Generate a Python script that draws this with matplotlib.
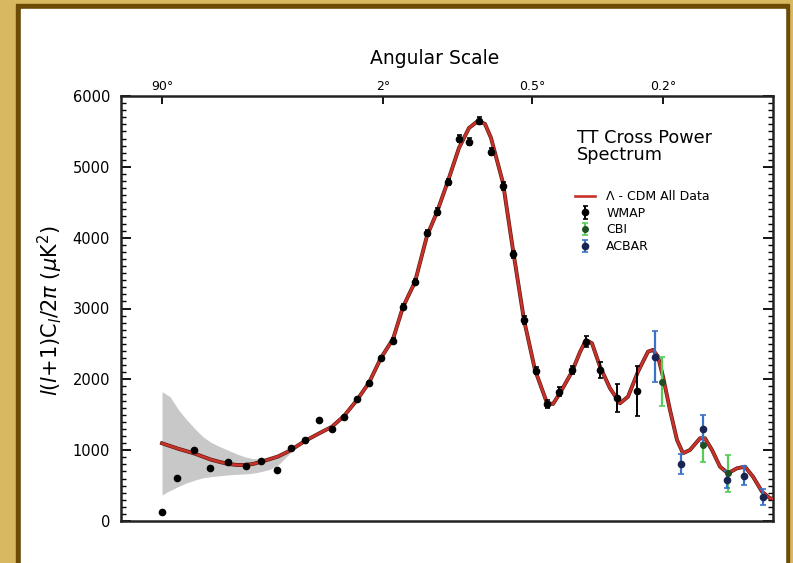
import numpy as np
import matplotlib.pyplot as plt
from matplotlib.patches import Rectangle
from matplotlib.ticker import MultipleLocator, NullLocator

plt.rcParams['font.family'] = ['DejaVu Sans']
plt.rcParams['mathtext.fontset'] = 'dejavusans'

# multipole l (top axis shows the matching angular scale)
wmap_l = [2, 3, 4.6, 6.5, 9.5, 13.2, 17.2, 22.4, 27.8, 33.9, 41.2, 48.7, 57.0, 66.5, 77.2,
          88.1, 100.2, 112.2, 126.7, 142.5, 158.1, 174.6, 193.9, 212.9, 232.7, 257.5, 284.2,
          310.2, 338.2, 370.9, 405.6, 444.1, 486.6, 539.4, 595.1, 669.7, 764.5]
wmap_val = [123, 603, 1003, 753, 829, 781, 851, 720, 1027, 1144, 1426, 1295, 1473, 1718, 1944,
            2306, 2542, 3026, 3379, 4062, 4367, 4783, 5394, 5356, 5648, 5214, 4730,
            3766, 2838, 2122, 1652, 1826, 2132, 2532, 2132, 1733, 1840]
wmap_err = [0, 0, 0, 0, 0, 0, 0, 0, 0, 0, 0, 0, 0, 0, 30,
            30, 35, 35, 40, 40, 45, 45, 50, 50, 50, 50, 50,
            50, 50, 50, 55, 60, 60, 80, 110, 200, 353]

cbi_l = [894, 1146, 1325]
cbi_val = [1967, 1073, 674]
cbi_err = [343, 236, 259]

acbar_l = [857, 1007, 1146, 1317, 1453, 1613]
acbar_val = [2320, 801, 1299, 579, 640, 343]
acbar_err = [357, 141, 200, 120, 130, 113]

model_l = [2.0, 2.5, 3.09, 3.78, 4.69, 5.62, 6.69, 8.07, 9.47, 11.24,
           13.03, 15.0, 17.5, 19.97, 22.7, 27.3, 33.9, 41.7, 48.9, 57.0,
           66.8, 76.9, 88.1, 100.6, 111.9, 126.7, 142.9, 157.7, 175.1, 193.9,
           212.4, 230.0, 244.5, 257.5, 284.9, 309.4, 338.2, 368.9, 404.7, 423.6,
           446.4, 487.7, 516.8, 539.4, 562.7, 595.1, 637.4, 681.9, 719.3, 768.0,
           819.2, 845.8, 873.0, 900.8, 940.8, 982.2, 1018.8, 1062.6, 1127.9, 1161.6,
           1210.0, 1267.2, 1326.4, 1395.4, 1459.0, 1524.8, 1601.4, 1672.0, 1726.3]
model_val = [1097, 1059, 1021, 988, 950, 908, 866, 833, 805, 791,
             791, 805, 840, 875, 911, 995, 1130, 1243, 1331, 1483,
             1709, 1953, 2302, 2570, 3022, 3375, 4024, 4363, 4801, 5267,
             5549, 5648, 5606, 5408, 4773, 3827, 2838, 2132, 1666, 1652,
             1807, 2108, 2386, 2556, 2509, 2179, 1874, 1662, 1755, 2108,
             2391, 2415, 2320, 2038, 1567, 1144, 956, 1003, 1168, 1168,
             1003, 767, 674, 744, 767, 626, 414, 320, 311]

# grey cosmic variance band at low l
band_l = [2.0, 2.5, 3.09, 3.78, 4.69, 5.62, 6.69, 8.07, 9.47, 11.24, 13.03, 15.0, 17.5, 19.97, 22.7, 27.3]
band_lo = [367, 430, 484, 535, 579, 610, 626, 640, 650, 660, 664, 675, 700, 730, 790, 960]
band_hi = [1826, 1755, 1580, 1440, 1300, 1190, 1110, 1049, 1000, 946, 905, 880, 880, 895, 935, 1030]

angle_l = [2, 90, 360, 900]
angle_labels = ['90°', '2°', '0.5°', '0.2°']

W, H = 793, 563
fig = plt.figure(figsize=(W / 100, H / 100), dpi=100, facecolor='#d9b95f')
fig.add_artist(Rectangle((16 / W, 0), (789 - 16) / W, (563 - 4) / H, transform=fig.transFigure,
                         color='#6b4b05', zorder=-10))
fig.add_artist(Rectangle((21 / W, 0), (785 - 21) / W, (563 - 9) / H, transform=fig.transFigure,
                         color='white', zorder=-9))

ax = fig.add_axes([121 / W, 1 - 521 / H, 652 / W, 425 / H])
ax.set_xscale('function', functions=(lambda l: np.power(np.abs(l), 0.25), lambda u: np.power(u, 4)))
ax.set_xlim(0.493, 1699)
ax.set_ylim(0, 6000)

ax.fill_between(band_l, band_lo, band_hi, color='#c8c8c8', lw=0, zorder=1)
ax.plot(model_l, model_val, color='#5a1810', lw=2.8, zorder=2)
model_line, = ax.plot(model_l, model_val, color='#c8322a', lw=1.9, zorder=3)

wmap = ax.errorbar(wmap_l, wmap_val, yerr=wmap_err, fmt='o', ms=4.5, color='black',
                   ecolor='black', elinewidth=1.4, capsize=1.8, capthick=1.2, zorder=5)
cbi = ax.errorbar(cbi_l, cbi_val, yerr=cbi_err, fmt='o', ms=4, color='#1f4f22',
                  ecolor='#55cc55', elinewidth=1.6, capsize=2, capthick=1.2, zorder=4)
acbar = ax.errorbar(acbar_l, acbar_val, yerr=acbar_err, fmt='o', ms=4.5, color='#1a2450',
                    ecolor='#3a72c8', elinewidth=1.6, capsize=2, capthick=1.2, zorder=4)

ax.set_xticks(angle_l)
ax.set_xticklabels(angle_labels)
ax.xaxis.set_minor_locator(NullLocator())
ax.tick_params(axis='x', top=True, bottom=False, labeltop=True, labelbottom=False,
               direction='in', length=6, width=1.3, pad=2, labelsize=9)
ax.yaxis.set_major_locator(MultipleLocator(1000))
ax.yaxis.set_minor_locator(MultipleLocator(100))
ax.tick_params(axis='y', which='major', left=True, right=True, direction='in',
               length=7, width=1.3, pad=8, labelsize=10.5)
ax.tick_params(axis='y', which='minor', left=True, right=True, direction='in',
               length=3.5, width=1.0)
for s in ax.spines.values():
    s.set_linewidth(1.8)
    s.set_color('#222222')

fig.text(435 / W, 1 - 64 / H, 'Angular Scale', ha='center', va='baseline', fontsize=13.5)
fig.text(50 / W, 1 - 311 / H, r'$l$($l$+1)C$_l$/2$\pi$ ($\mu$K$^2$)', rotation=90,
         ha='center', va='center', fontsize=15)
fig.text(577 / W, 1 - 129 / H, 'TT Cross Power\nSpectrum', ha='left', va='top',
         fontsize=12.7, linespacing=0.95)

leg = ax.legend([model_line, wmap, cbi, acbar], ['Λ - CDM All Data', 'WMAP', 'CBI', 'ACBAR'],
                loc='upper left', bbox_to_anchor=(575 / W, 1 - 190 / H), bbox_transform=fig.transFigure,
                frameon=False, fontsize=9, handlelength=1.6, handletextpad=0.9,
                labelspacing=0.3, borderpad=0, borderaxespad=0)

fig.savefig('out.png', dpi=100, facecolor=fig.get_facecolor())
